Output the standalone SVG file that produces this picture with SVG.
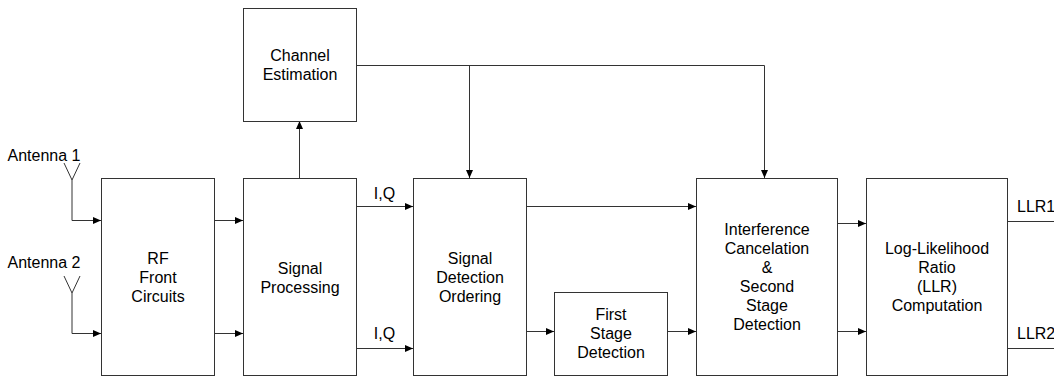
<svg xmlns="http://www.w3.org/2000/svg" width="1054" height="379" viewBox="0 0 1054 379">
<style>
.box{fill:#fff;stroke:#333;stroke-width:1}
.ln{fill:none;stroke:#333;stroke-width:1}
.ar{fill:none;stroke:#333;stroke-width:1;marker-end:url(#ah)}
text{font-family:"Liberation Sans",Arial,sans-serif;font-size:16px;fill:#000}
.c{text-anchor:middle}
</style>
<defs>
<marker id="ah" markerWidth="9" markerHeight="8" refX="8" refY="4" orient="auto" markerUnits="userSpaceOnUse">
<path d="M0,0.5 L8,4 L0,7.5 Z" fill="#000"/>
</marker>
</defs>
<rect width="1054" height="379" fill="#fff"/>
<g id="connectors">
<path class="ln" d="M64,163 L72,180 L80,163"/>
<path class="ar" d="M72,180 V220.5 H101"/>
<path class="ln" d="M64,276 L72,293 L80,276"/>
<path class="ar" d="M72,293 V333.5 H101"/>
<path class="ar" d="M214,220.5 H243"/>
<path class="ar" d="M214,333.5 H243"/>
<path class="ar" d="M299.5,178 V121"/>
<path class="ar" d="M356,206.5 H413"/>
<path class="ar" d="M356,348.5 H413"/>
<path class="ln" d="M356,65.5 H764.5"/>
<path class="ar" d="M469.5,65.5 V178"/>
<path class="ar" d="M764.5,65.5 V178"/>
<path class="ar" d="M526,206.5 H696"/>
<path class="ar" d="M526,331.5 H554"/>
<path class="ar" d="M668,331.5 H696"/>
<path class="ar" d="M838,223.5 H866"/>
<path class="ar" d="M838,331.5 H866"/>
<path class="ln" d="M1007,221.5 H1054"/>
<path class="ln" d="M1007,348.5 H1054"/>
<text x="384.5" y="199" class="c">I,Q</text>
<text x="384.5" y="339" class="c">I,Q</text>
<text x="1017" y="212">LLR1</text>
<text x="1017" y="339">LLR2</text>
</g>
<g id="antenna1"><text x="44" y="161" class="c">Antenna 1</text></g>
<g id="antenna2"><text x="44" y="268" class="c">Antenna 2</text></g>
<g id="rf">
<rect class="box" x="101.5" y="178.5" width="113" height="197"/>
<text x="158" y="264" class="c">RF</text>
<text x="158" y="283" class="c">Front</text>
<text x="158" y="302" class="c">Circuits</text>
</g>
<g id="sp">
<rect class="box" x="243.5" y="178.5" width="113" height="197"/>
<text x="300" y="273.5" class="c">Signal</text>
<text x="300" y="292.5" class="c">Processing</text>
</g>
<g id="ce">
<rect class="box" x="243.5" y="8.5" width="113" height="113"/>
<text x="300" y="61" class="c">Channel</text>
<text x="300" y="80" class="c">Estimation</text>
</g>
<g id="sdo">
<rect class="box" x="413.5" y="178.5" width="113" height="197"/>
<text x="470" y="264" class="c">Signal</text>
<text x="470" y="283" class="c">Detection</text>
<text x="470" y="302" class="c">Ordering</text>
</g>
<g id="fs">
<rect class="box" x="554.5" y="292.5" width="113" height="83"/>
<text x="611" y="320" class="c">First</text>
<text x="611" y="339" class="c">Stage</text>
<text x="611" y="358" class="c">Detection</text>
</g>
<g id="ic">
<rect class="box" x="696.5" y="178.5" width="141" height="197"/>
<text x="767" y="235" class="c">Interference</text>
<text x="767" y="254" class="c">Cancelation</text>
<text x="767" y="273" class="c">&amp;</text>
<text x="767" y="292" class="c">Second</text>
<text x="767" y="311" class="c">Stage</text>
<text x="767" y="330" class="c">Detection</text>
</g>
<g id="llr">
<rect class="box" x="866.5" y="178.5" width="141" height="197"/>
<text x="937" y="254" class="c">Log-Likelihood</text>
<text x="937" y="273" class="c">Ratio</text>
<text x="937" y="292" class="c">(LLR)</text>
<text x="937" y="311" class="c">Computation</text>
</g>
</svg>
